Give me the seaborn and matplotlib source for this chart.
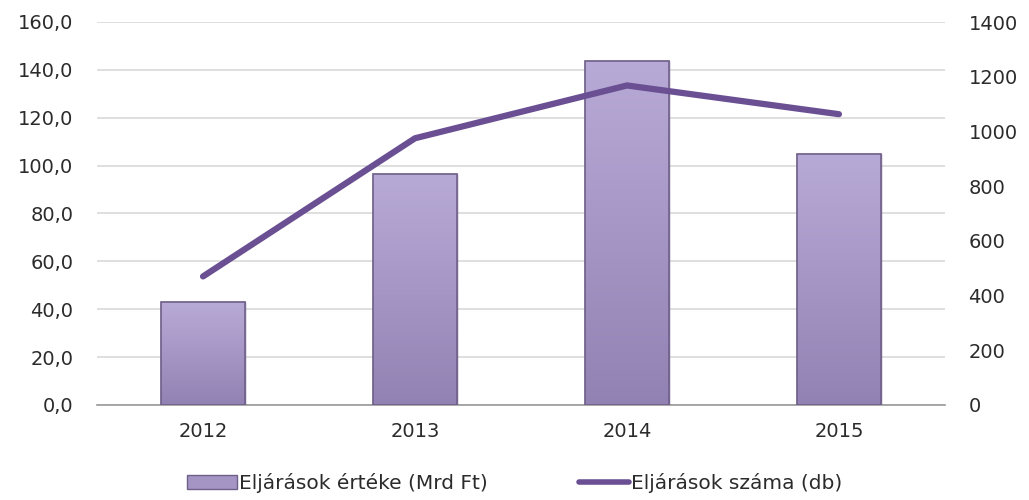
import numpy as np
import pandas as pd
import matplotlib
matplotlib.use('Agg')
import matplotlib.pyplot as plt
import seaborn as sns
from matplotlib.ticker import FuncFormatter, FixedLocator
from matplotlib.lines import Line2D
from matplotlib.patches import Patch, Rectangle

# Data
years = ['2012', '2013', '2014', '2015']
ertek = [43.0, 96.5, 143.5, 105.0]      # Eljárások értéke (Mrd Ft)
szam = [470, 975, 1168, 1063]           # Eljárások száma (db)

sns.set_theme(style='white')
plt.rcParams['font.family'] = ['DejaVu Sans']

df = pd.DataFrame({'Év': years, 'Érték': ertek, 'Szám': szam})

fig = plt.figure(figsize=(10.29, 5), dpi=100)
ax = fig.add_axes([0.0943, 0.19, 0.824, 0.766])

bar_color = '#a495c5'
edge_color = '#6f6089'
line_color = '#6a4f93'
text_color = '#2b2b2b'
fs = 14

sns.barplot(data=df, x='Év', y='Érték', ax=ax, color=bar_color, width=0.4,
            edgecolor=edge_color, linewidth=1.0, saturation=1, zorder=3)

# soft vertical gradient inside the bars (light top, darker bottom)
grad = np.linspace(0, 1, 256).reshape(-1, 1)
cmap = matplotlib.colors.LinearSegmentedColormap.from_list(
    'g', ['#b8aad6', '#a696c6', '#9282b3'])
for p in list(ax.patches):
    x0, y0 = p.get_x(), p.get_y()
    w, h = p.get_width(), p.get_height()
    im = ax.imshow(grad, extent=[x0, x0 + w, y0, y0 + h], aspect='auto',
                   cmap=cmap, zorder=3.5, origin='upper')
    im.set_clip_path(p)
    ax.add_patch(Rectangle((x0, y0), w, h, fill=False, edgecolor=edge_color,
                           linewidth=1.2, zorder=4))

ax.set_xlim(-0.5, 3.5)
ax.set_ylim(0, 160)
ax.set_yticks(np.arange(0, 161, 20))
ax.yaxis.set_major_formatter(FuncFormatter(lambda v, _: f'{v:.1f}'.replace('.', ',')))
ax.grid(axis='y', color='#d9d9d9', linewidth=1.2, zorder=0)
ax.set_axisbelow(True)
ax.set_xlabel('')
ax.set_ylabel('')
for s in ['top', 'right', 'left']:
    ax.spines[s].set_visible(False)
ax.spines['bottom'].set_color('#999999')
ax.spines['bottom'].set_linewidth(1.2)
ax.tick_params(axis='x', length=0, pad=12, labelsize=fs, labelcolor=text_color)
ax.xaxis.set_minor_locator(FixedLocator([-0.5, 0.5, 1.5, 2.5, 3.5]))
ax.tick_params(axis='x', which='minor', length=5, color='#999999', width=1.2, direction='out')
ax.tick_params(axis='y', length=0, pad=17, labelsize=fs, labelcolor=text_color)

ax2 = ax.twinx()
sns.lineplot(x=np.arange(len(years)), y=szam, ax=ax2, color=line_color,
             linewidth=4.5, solid_capstyle='round', solid_joinstyle='round', zorder=5)
ax2.set_ylim(0, 1400)
ax2.set_yticks(np.arange(0, 1401, 200))
for s in ['top', 'right', 'left', 'bottom']:
    ax2.spines[s].set_visible(False)
ax2.tick_params(axis='y', length=0, pad=17, labelsize=fs, labelcolor=text_color)
ax2.set_xlim(-0.5, 3.5)

handles = [Patch(facecolor=bar_color, edgecolor=edge_color, linewidth=1.0),
           Line2D([0], [0], color=line_color, linewidth=4)]
labels = ['Eljárások értéke (Mrd Ft)', 'Eljárások száma (db)']
fig.legend(handles, labels, loc='center', bbox_to_anchor=(0.5, 0.034), ncol=2,
           frameon=False, fontsize=fs + 0.5, handlelength=2.5, handletextpad=0.1,
           columnspacing=4.5, labelcolor=text_color)

fig.savefig('out.png', dpi=100)
